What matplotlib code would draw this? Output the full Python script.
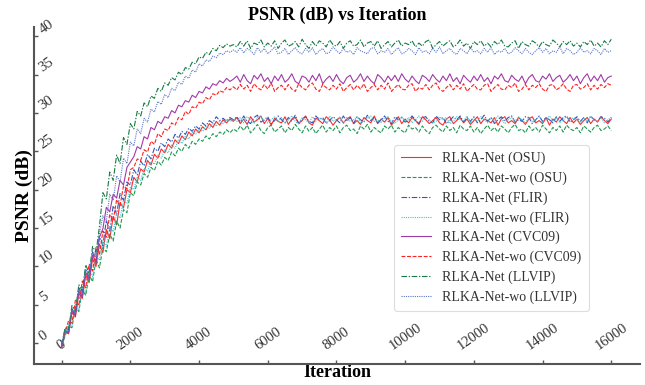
import numpy as np
import matplotlib
matplotlib.use("Agg")
import matplotlib.pyplot as plt

plt.rcParams['font.family'] = ['Liberation Serif', 'DejaVu Serif']

STEP = 100  # iterations between logged values

# ---- RLKA-Net (OSU) ----
osu_net_rise = [-0.5, 1.5, 1.2, 4.0, 3.4, 6.5, 5.8, 8.9, 7.9, 11.0,
                10.0, 12.9, 11.8, 14.8, 13.6, 16.5, 15.4, 18.3, 17.6, 20.0,
                19.6, 21.6, 21.0, 22.7, 22.3, 23.8, 23.2, 24.6, 24.1, 25.3,
                24.8, 25.9, 25.4, 26.5, 26.0, 27.0, 26.5, 27.5, 27.0, 27.9,
                27.4, 28.2, 27.8, 28.6, 28.1, 28.9, 28.4, 29.1, 28.7, 29.2, 28.9]
osu_net_flat = [29.4, 28.6, 29.2, 28.5, 29.5, 28.8, 29.1, 29.6, 28.6, 29.3,
                28.4, 29.3, 28.9, 28.7, 29.5, 28.5, 29.2, 29.4, 28.6, 29.0,
                29.6, 28.7, 28.4, 29.3, 29.0, 28.6, 29.5, 29.1, 28.4, 29.0,
                29.4, 28.7, 29.2, 29.5, 28.6, 29.0, 28.5, 29.4, 29.0, 28.7,
                29.6, 28.6, 29.2, 28.8, 29.4, 28.4, 29.0, 29.5, 28.6, 29.2,
                28.7, 29.4, 29.0, 28.5, 29.5, 29.1, 28.6, 29.0, 29.4, 28.7,
                28.4, 29.2, 29.5, 28.6, 29.0, 29.4, 28.7, 29.2, 28.5, 29.0,
                29.5, 28.6, 29.2, 29.0, 28.7, 29.4, 28.4, 29.2, 29.5, 28.7,
                29.0, 28.6, 29.4, 29.0, 28.5, 29.2, 29.5, 28.7, 29.0, 28.6,
                29.4, 28.4, 29.2, 28.8, 29.5, 29.0, 28.6, 29.4, 28.7, 29.2,
                28.5, 29.0, 29.4, 28.6, 29.2, 28.8, 29.5, 29.0, 28.6, 29.2]

# ---- RLKA-Net-wo (OSU) ----
osu_wo_rise = [-0.3, 0.9, 2.2, 2.0, 4.8, 4.1, 7.0, 6.2, 8.9, 8.0,
               10.9, 9.8, 12.5, 11.9, 14.2, 13.3, 15.9, 15.0, 17.4, 17.0,
               19.6, 19.2, 21.0, 20.6, 22.1, 21.6, 22.9, 22.5, 23.7, 23.2,
               24.2, 23.8, 24.9, 24.4, 25.4, 25.0, 25.9, 25.4, 26.3, 25.9,
               26.6, 26.3, 27.0, 26.6, 27.3, 26.9, 27.5, 27.2, 27.8, 27.4, 27.9]
osu_wo_flat = [27.6, 28.3, 27.7, 28.4, 27.4, 27.9, 28.5, 27.7, 27.3, 28.1,
               28.4, 27.5, 27.9, 28.3, 27.4, 28.1, 27.7, 28.5, 27.9, 27.4,
               28.3, 27.6, 28.1, 27.3, 27.9, 28.4, 27.5, 28.1, 27.7, 28.3,
               27.4, 28.1, 28.4, 27.7, 27.9, 27.3, 28.3, 27.9, 28.5, 27.5,
               28.1, 27.7, 27.4, 28.3, 27.9, 28.4, 27.5, 28.1, 27.7, 27.4,
               28.4, 27.9, 28.1, 27.5, 28.3, 27.7, 27.3, 28.1, 28.4, 27.9,
               27.5, 28.3, 27.7, 28.1, 27.4, 28.4, 27.9, 27.7, 28.3, 27.5,
               28.1, 27.3, 27.9, 28.4, 27.7, 28.1, 27.5, 28.3, 27.9, 27.4,
               28.1, 28.5, 27.7, 27.9, 27.4, 28.3, 27.7, 28.1, 27.5, 28.4,
               27.9, 27.4, 28.1, 27.7, 28.3, 27.5, 28.4, 27.9, 27.7, 28.1,
               27.4, 28.3, 27.9, 27.5, 28.1, 28.4, 27.7, 27.9, 28.3, 27.7]

# ---- RLKA-Net (FLIR) ----
flir_net_rise = [-0.6, 1.8, 1.4, 4.5, 3.6, 7.2, 6.1, 9.6, 8.5, 11.8,
                 10.6, 13.9, 12.7, 16.0, 14.6, 17.9, 16.8, 19.5, 18.6, 21.0,
                 20.6, 22.6, 21.9, 23.7, 23.1, 24.6, 24.0, 25.4, 25.0, 26.1,
                 25.6, 26.6, 26.2, 27.2, 26.7, 27.6, 27.2, 28.0, 27.6, 28.3,
                 27.9, 28.7, 28.3, 29.0, 28.7, 29.5, 29.0, 29.3, 28.9, 29.4, 29.1]
flir_net_flat = [29.5, 28.8, 29.6, 28.9, 28.6, 29.4, 29.7, 28.8, 29.1, 29.5,
                 28.6, 29.0, 29.6, 29.1, 28.7, 29.4, 28.9, 29.7, 28.6, 29.2,
                 29.5, 28.9, 28.7, 29.6, 29.1, 29.4, 28.6, 29.0, 29.5, 29.1,
                 28.7, 29.6, 28.9, 29.4, 28.6, 29.5, 29.1, 28.8, 29.7, 29.0,
                 29.4, 28.7, 29.1, 29.6, 28.9, 28.6, 29.5, 29.1, 29.4, 28.8,
                 29.0, 29.6, 29.1, 28.6, 29.4, 29.5, 28.9, 28.7, 29.6, 29.1,
                 29.4, 28.6, 29.0, 29.5, 29.1, 29.6, 28.8, 29.4, 28.9, 29.5,
                 28.7, 29.1, 29.7, 28.9, 29.4, 28.6, 29.1, 29.5, 28.9, 29.4,
                 29.6, 28.8, 29.1, 28.9, 29.5, 29.4, 28.6, 29.1, 29.6, 28.9,
                 29.4, 29.1, 28.7, 29.5, 28.9, 29.4, 29.6, 28.8, 29.1, 29.5,
                 28.9, 29.4, 28.7, 29.6, 29.1, 28.9, 29.5, 29.3, 28.8, 29.4]

# ---- RLKA-Net-wo (FLIR) ----
flir_wo_rise = [-0.4, 1.0, 2.5, 2.2, 5.0, 4.3, 7.4, 6.6, 9.5, 8.7,
                11.5, 10.8, 13.4, 12.6, 15.3, 14.5, 16.9, 16.3, 18.6, 18.2,
                20.4, 20.0, 21.7, 21.2, 22.8, 22.4, 23.7, 23.3, 24.5, 24.1,
                25.2, 24.8, 25.8, 25.4, 26.5, 26.0, 27.0, 26.6, 27.5, 27.2,
                27.9, 27.6, 28.3, 28.0, 28.6, 28.3, 28.9, 28.6, 29.2, 28.9, 29.1]
flir_wo_flat = [28.9, 29.4, 28.7, 29.5, 29.1, 28.6, 29.4, 29.6, 28.9, 28.7,
                29.1, 29.5, 28.9, 29.4, 28.7, 29.1, 29.6, 28.9, 28.6, 29.4,
                29.1, 28.7, 29.5, 28.9, 29.4, 29.1, 28.7, 29.6, 28.9, 29.1,
                29.5, 28.6, 29.4, 28.9, 29.1, 29.5, 28.7, 28.9, 29.4, 29.6,
                28.9, 29.1, 28.7, 29.4, 29.5, 28.9, 28.6, 29.1, 29.5, 28.9,
                29.4, 28.7, 29.1, 29.6, 28.9, 29.4, 29.1, 28.7, 28.9, 29.5,
                29.1, 29.4, 28.6, 28.9, 29.5, 29.1, 28.9, 29.6, 28.7, 29.4,
                28.9, 29.5, 29.1, 28.7, 29.4, 28.9, 29.6, 29.1, 28.6, 29.1,
                29.4, 28.9, 29.5, 29.1, 28.7, 29.4, 28.9, 29.1, 29.5, 28.7,
                29.1, 29.6, 28.9, 29.4, 28.7, 29.1, 29.5, 28.9, 29.4, 29.1,
                28.7, 29.4, 28.9, 29.5, 29.1, 28.9, 29.4, 28.7, 29.1, 29.4]

# ---- RLKA-Net (CVC09) ----
cvc_net_rise = [-0.5, 1.6, 1.3, 4.2, 3.7, 6.8, 6.0, 9.2, 8.3, 11.4,
                10.6, 13.8, 14.9, 17.7, 17.1, 19.4, 18.9, 21.2, 20.6, 22.9,
                23.6, 24.3, 25.6, 25.3, 26.9, 26.6, 28.1, 27.8, 28.9, 28.6,
                29.5, 29.3, 30.3, 30.0, 31.0, 30.8, 31.6, 31.4, 32.3, 32.0,
                32.8, 32.6, 33.4, 33.1, 33.8, 33.6, 34.2, 33.9, 34.5, 34.1, 34.4]
cvc_net_flat = [34.8, 34.0, 35.0, 34.2, 33.8, 34.9, 34.4, 35.1, 34.1, 34.6,
                33.8, 34.8, 34.2, 35.0, 34.0, 34.4, 35.1, 34.1, 33.8, 34.8,
                34.6, 34.0, 34.9, 34.2, 35.1, 33.8, 34.4, 34.8, 34.1, 35.0,
                34.2, 33.8, 34.6, 34.9, 34.0, 34.4, 35.1, 34.1, 34.8, 34.2,
                33.8, 35.0, 34.6, 34.0, 34.8, 34.2, 34.9, 34.1, 35.1, 34.4,
                34.0, 34.8, 34.2, 33.8, 34.9, 34.6, 34.1, 35.0, 34.4, 34.0,
                34.8, 34.2, 35.1, 34.1, 34.6, 33.8, 34.9, 34.4, 34.0, 34.8,
                34.2, 35.0, 34.1, 34.6, 33.8, 34.8, 34.4, 35.1, 34.2, 34.0,
                34.9, 34.4, 34.1, 34.8, 33.8, 34.6, 35.0, 34.2, 34.0, 34.8,
                34.4, 35.1, 34.1, 34.6, 34.9, 34.0, 34.4, 35.0, 34.2, 34.8,
                33.8, 34.6, 35.1, 34.1, 34.8, 34.2, 35.0, 34.0, 34.6, 34.8]

# ---- RLKA-Net-wo (CVC09) ----
cvc_wo_rise = [-0.4, 1.4, 2.9, 2.6, 5.6, 4.9, 8.1, 7.2, 10.3, 9.4,
               12.5, 11.6, 14.6, 13.8, 16.8, 16.0, 18.7, 17.9, 20.5, 20.1,
               22.6, 22.9, 24.0, 23.8, 25.2, 24.9, 26.3, 25.9, 27.3, 26.9,
               27.9, 27.7, 28.7, 28.4, 29.4, 29.1, 30.2, 29.8, 30.8, 30.6,
               31.4, 31.2, 32.0, 31.7, 32.5, 32.3, 32.9, 32.7, 33.3, 33.0, 33.4]
cvc_wo_flat = [33.0, 33.7, 33.1, 33.6, 32.8, 33.8, 33.3, 33.0, 33.7, 33.1,
               33.9, 32.8, 33.3, 33.6, 33.0, 33.7, 33.1, 32.8, 33.8, 33.3,
               33.0, 33.6, 33.9, 33.1, 32.8, 33.7, 33.3, 33.0, 33.6, 33.1,
               33.8, 32.8, 33.3, 33.7, 33.0, 33.6, 33.1, 33.8, 32.8, 33.3,
               33.7, 33.0, 33.6, 33.1, 33.9, 32.8, 33.3, 33.7, 33.1, 33.0,
               33.6, 33.8, 32.8, 33.3, 33.1, 33.7, 33.0, 33.6, 33.9, 33.1,
               32.8, 33.3, 33.7, 33.0, 33.6, 33.1, 33.8, 32.8, 33.3, 33.7,
               33.1, 33.0, 33.6, 33.8, 32.8, 33.3, 33.7, 33.1, 33.0, 33.6,
               33.3, 33.9, 32.8, 33.1, 33.7, 33.0, 33.6, 33.3, 33.8, 33.1,
               32.8, 33.6, 33.7, 33.0, 33.3, 33.8, 33.1, 32.8, 33.6, 33.7,
               33.1, 33.3, 33.8, 33.0, 33.6, 33.1, 33.7, 33.3, 33.8, 33.6]

# ---- RLKA-Net (LLVIP) ----
llvip_net_rise = [-0.2, 2.0, 1.7, 4.9, 4.2, 7.6, 6.8, 10.2, 9.1, 12.6,
                  11.8, 15.2, 19.6, 18.8, 22.3, 21.2, 24.5, 23.4, 26.8, 25.9,
                  28.6, 27.9, 30.2, 29.6, 31.3, 30.8, 32.2, 31.9, 33.2, 32.8,
                  33.9, 33.6, 34.6, 34.3, 35.3, 35.0, 35.9, 35.7, 36.6, 36.4,
                  37.3, 37.1, 37.9, 37.6, 38.4, 38.1, 38.8, 38.5, 39.0, 38.7, 38.9]
llvip_net_flat = [38.6, 39.3, 38.7, 39.4, 38.4, 39.1, 38.9, 39.5, 38.6, 39.1,
                  38.7, 39.4, 38.4, 39.1, 39.5, 38.7, 38.9, 39.3, 38.6, 39.6,
                  38.9, 38.4, 39.3, 38.7, 39.4, 39.1, 38.6, 39.5, 38.9, 38.7,
                  39.3, 38.4, 39.1, 39.4, 38.7, 38.9, 39.5, 38.6, 39.1, 39.3,
                  38.7, 39.4, 38.4, 38.9, 39.3, 38.6, 39.1, 39.5, 38.7, 39.1,
                  38.9, 39.4, 38.6, 39.1, 38.7, 39.3, 39.5, 38.4, 38.9, 39.3,
                  38.7, 39.1, 39.4, 38.6, 38.9, 39.5, 38.7, 39.1, 38.4, 39.3,
                  38.9, 39.4, 38.7, 39.1, 38.6, 39.3, 38.9, 39.5, 38.7, 38.6,
                  39.1, 39.4, 38.4, 39.3, 38.9, 38.7, 39.4, 39.1, 38.6, 39.3,
                  38.9, 38.7, 39.5, 39.1, 38.6, 39.3, 38.9, 39.4, 38.7, 39.1,
                  38.6, 39.3, 38.9, 39.5, 38.7, 39.1, 38.6, 39.4, 38.9, 39.6]

# ---- RLKA-Net-wo (LLVIP) ----
llvip_wo_rise = [-0.3, 1.7, 1.5, 4.5, 3.9, 7.1, 6.4, 9.6, 8.8, 12.0,
                 11.2, 14.3, 16.6, 15.9, 19.4, 18.6, 21.8, 21.0, 24.1, 23.4,
                 26.2, 25.7, 27.9, 27.3, 29.3, 28.8, 30.5, 30.1, 31.5, 31.1,
                 32.4, 32.0, 33.2, 32.9, 34.0, 33.7, 34.8, 34.5, 35.6, 35.3,
                 36.4, 36.1, 36.9, 36.7, 37.4, 37.2, 37.8, 37.6, 38.1, 37.9, 38.2]
llvip_wo_flat = [37.9, 38.5, 37.8, 38.4, 38.1, 37.6, 38.5, 37.9, 38.4, 37.7,
                 38.1, 38.6, 37.7, 37.9, 38.4, 37.6, 38.1, 38.5, 37.9, 37.7,
                 38.4, 37.9, 38.5, 37.6, 38.1, 38.4, 37.7, 37.9, 38.6, 38.1,
                 37.7, 38.4, 37.9, 38.1, 37.6, 38.5, 38.1, 37.9, 37.7, 38.4,
                 38.5, 37.7, 38.1, 37.9, 38.4, 37.6, 38.1, 38.5, 37.7, 37.9,
                 38.4, 38.1, 37.6, 38.5, 37.9, 38.1, 37.7, 38.4, 37.9, 38.6,
                 37.7, 38.1, 38.4, 37.9, 37.6, 38.4, 38.1, 37.7, 38.5, 37.9,
                 38.1, 37.7, 38.4, 37.9, 38.5, 37.6, 38.1, 37.9, 38.4, 37.7,
                 37.9, 38.5, 38.1, 37.7, 38.4, 37.9, 37.6, 38.1, 38.5, 37.9,
                 38.4, 37.7, 38.1, 37.9, 38.6, 37.7, 38.4, 38.1, 37.6, 37.9,
                 38.5, 37.9, 38.1, 37.7, 38.4, 38.1, 37.6, 38.4, 37.9, 38.1]

series = [
    ("RLKA-Net (OSU)", osu_net_rise + osu_net_flat, "#ff2a2a", "-"),
    ("RLKA-Net-wo (OSU)", osu_wo_rise + osu_wo_flat, "#1f9a55", (0, (3.5, 1.5))),
    ("RLKA-Net (FLIR)", flir_net_rise + flir_net_flat, "#3557b8", (0, (5, 1.5, 1.2, 1.5))),
    ("RLKA-Net-wo (FLIR)", flir_wo_rise + flir_wo_flat, "#3fc4cf", (0, (1, 1))),
    ("RLKA-Net (CVC09)", cvc_net_rise + cvc_net_flat, "#a03aa8", "-"),
    ("RLKA-Net-wo (CVC09)", cvc_wo_rise + cvc_wo_flat, "#ff2020", (0, (3.5, 1.5))),
    ("RLKA-Net (LLVIP)", llvip_net_rise + llvip_net_flat, "#157a45", (0, (5, 1.5, 1.2, 1.5))),
    ("RLKA-Net-wo (LLVIP)", llvip_wo_rise + llvip_wo_flat, "#5b76c9", (0, (1, 1))),
]

fig = plt.figure(figsize=(6.45, 3.85), dpi=100)
ax = fig.add_axes([0.053, 0.055, 0.94, 0.875])

for name, vals, col, ls in series:
    it = np.arange(len(vals)) * STEP
    ax.plot(it, vals, color=col, linestyle=ls, linewidth=0.8, label=name)

ax.set_xlim(-800, 16850)
ax.set_ylim(-2.7, 41.2)
ax.set_xticks(np.arange(0, 16001, 2000))
ax.set_yticks(np.arange(0, 41, 5))

for s in ['top', 'right']:
    ax.spines[s].set_visible(False)
for s in ['left', 'bottom']:
    ax.spines[s].set_color('#555555')
    ax.spines[s].set_linewidth(1.5)

ax.tick_params(axis='both', direction='in', length=3, width=1, color='#555555',
               labelsize=10.5, labelcolor='#333333')
ax.tick_params(axis='x', pad=-8.5)
ax.tick_params(axis='y', pad=-2)
for lab in ax.get_xticklabels():
    lab.set_rotation(35)
    lab.set_va('bottom')
for lab in ax.get_yticklabels():
    lab.set_rotation(35)
    lab.set_ha('left')
    lab.set_va('bottom')

ax.set_title("PSNR (dB) vs Iteration", fontsize=13, fontweight='bold', pad=5)
ax.set_xlabel("Iteration", fontsize=13, fontweight='bold', labelpad=0)
ax.set_ylabel("PSNR (dB)", fontsize=14, fontweight='bold', labelpad=1)

leg = ax.legend(loc='upper right', bbox_to_anchor=(0.926, 0.67), fontsize=10,
                frameon=True, fancybox=True, framealpha=1, edgecolor='#dddddd',
                handlelength=2.2, handletextpad=0.8, labelspacing=0.45,
                borderpad=0.5)
leg.get_frame().set_linewidth(0.8)
for t in leg.get_texts():
    t.set_color('#333333')

fig.savefig("out.png", dpi=100)
